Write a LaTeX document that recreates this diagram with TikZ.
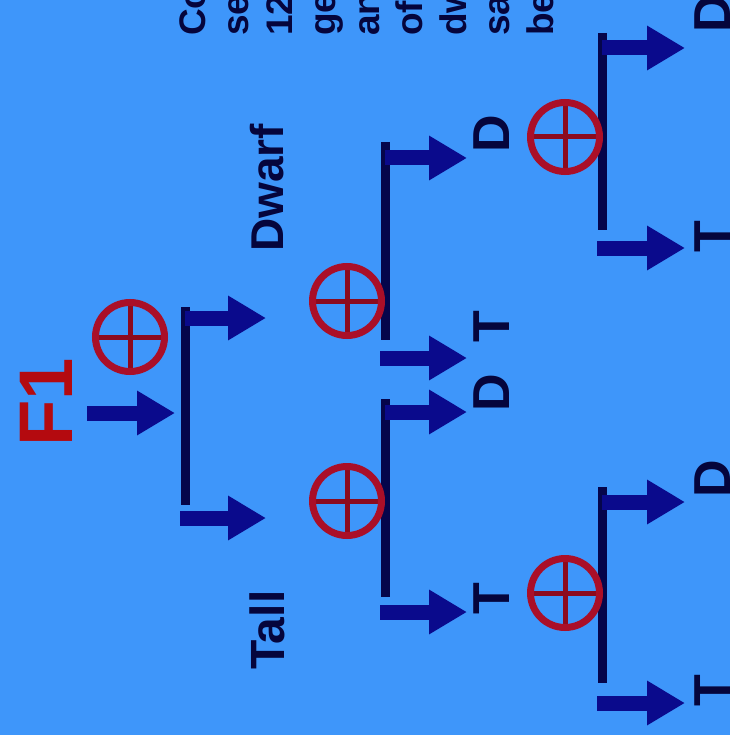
\documentclass[tikz,border=0pt]{standalone}
\usepackage{fontspec}
\setmainfont{Liberation Sans}
\usetikzlibrary{arrows.meta}
\definecolor{bg}{RGB}{62,150,250}
\definecolor{arrowc}{RGB}{10,10,140}
\definecolor{barc}{RGB}{5,5,75}
\definecolor{textc}{RGB}{5,5,60}
\definecolor{ringc}{RGB}{170,15,40}
\definecolor{crossc}{RGB}{140,10,30}
\definecolor{redtxt}{RGB}{180,10,15}
\begin{document}
\begin{tikzpicture}[x=1pt,y=1pt,
  fat/.style={draw=arrowc, line width=15pt, -{Triangle[length=38pt,width=42pt]}},
  stem/.style={draw=barc, line width=9pt},
  xorc/.style={circle, draw=ringc, line width=7pt, minimum size=69pt, inner sep=0pt,
    path picture={\draw[crossc, line width=5pt]
      (path picture bounding box.north) -- (path picture bounding box.south)
      (path picture bounding box.west) -- (path picture bounding box.east);}},
  lbl/.style={rotate=90, anchor=base west, inner sep=0pt, text=textc,
    font=\bfseries\fontsize{52}{52}\selectfont},
  small/.style={rotate=90, anchor=base west, inner sep=0pt, text=textc,
    font=\bfseries\fontsize{37}{37}\selectfont}
]
\useasboundingbox[fill=bg] (0,0) rectangle (730,-735);
\begin{scope}
\clip (0,0) rectangle (730,-735);
% cropped paragraph lines at the top
\node[small] (p1) at (205,-36) {Co};
\node[small] (p2) at (248.5,-36) {se};
\node[small] (p3) at (292,-36) {12};
\node[small] (p4) at (335.5,-36) {ge};
\node[small] (p5) at (379,-36) {an};
\node[small] (p6) at (422.5,-36) {of};
\node[small] (p7) at (466,-36) {dw};
\node[small] (p8) at (509.5,-36) {sa};
\node[small] (p9) at (553,-36) {be};

% level 1
\node[rotate=90, anchor=base west, inner sep=0pt, text=redtxt,
  font=\bfseries\fontsize{76}{76}\selectfont] (f1) at (72,-447) {F1};
\coordinate (inS) at (87,-413);
\coordinate (inE) at (175,-413);
\draw[fat] (inS) -- (inE);
\coordinate (b1t) at (185,-307);
\coordinate (b1b) at (185,-505);
\draw[stem] (b1t) -- (b1b);
\coordinate (a1s) at (185,-318);
\coordinate (a1e) at (266,-318);
\coordinate (a2s) at (180,-518);
\coordinate (a2e) at (266,-518);
\draw[fat] (a1s) -- (a1e);
\draw[fat] (a2s) -- (a2e);
\node[xorc] (x1) at (130,-337) {};
\node[lbl, font=\bfseries\fontsize{46}{46}\selectfont] (dwarf) at (283,-252) {Dwarf};
\node[lbl, font=\bfseries\fontsize{48}{48}\selectfont] (tall) at (284,-670) {Tall};

% level 2 upper
\coordinate (b2t) at (385,-142);
\coordinate (b2b) at (385,-340);
\draw[stem] (b2t) -- (b2b);
\coordinate (a3s) at (385,-158);
\coordinate (a3e) at (467,-158);
\coordinate (a4s) at (380,-358);
\coordinate (a4e) at (467,-358);
\draw[fat] (a3s) -- (a3e);
\draw[fat] (a4s) -- (a4e);
\node[xorc] (x2) at (347,-301) {};
\node[lbl] (l2d1) at (509,-153) {D};
\node[lbl] (l2t1) at (509,-343) {T};

% level 2 lower
\coordinate (b3t) at (385,-399);
\coordinate (b3b) at (385,-597);
\draw[stem] (b3t) -- (b3b);
\coordinate (a5s) at (385,-412);
\coordinate (a5e) at (467,-412);
\coordinate (a6s) at (380,-612);
\coordinate (a6e) at (467,-612);
\draw[fat] (a5s) -- (a5e);
\draw[fat] (a6s) -- (a6e);
\node[xorc] (x3) at (347,-501) {};
\node[lbl] (l2d2) at (509,-412) {D};
\node[lbl] (l2t2) at (509,-615) {T};

% level 3 upper
\coordinate (b4t) at (602,-33);
\coordinate (b4b) at (602,-230);
\draw[stem] (b4t) -- (b4b);
\coordinate (a7s) at (602,-48);
\coordinate (a7e) at (685,-48);
\coordinate (a8s) at (597,-248);
\coordinate (a8e) at (685,-248);
\draw[fat] (a7s) -- (a7e);
\draw[fat] (a8s) -- (a8e);
\node[xorc] (x4) at (565,-137) {};
\node[lbl] (l3d1) at (730,-33) {D};
\node[lbl] (l3t1) at (730,-253) {T};

% level 3 lower
\coordinate (b5t) at (602,-487);
\coordinate (b5b) at (602,-683);
\draw[stem] (b5t) -- (b5b);
\coordinate (a9s) at (602,-502);
\coordinate (a9e) at (685,-502);
\coordinate (a10s) at (597,-703);
\coordinate (a10e) at (685,-703);
\draw[fat] (a9s) -- (a9e);
\draw[fat] (a10s) -- (a10e);
\node[xorc] (x5) at (565,-593) {};
\node[lbl] (l3d2) at (730,-498) {D};
\node[lbl] (l3t2) at (730,-707) {T};
\end{scope}
\end{tikzpicture}
\end{document}
